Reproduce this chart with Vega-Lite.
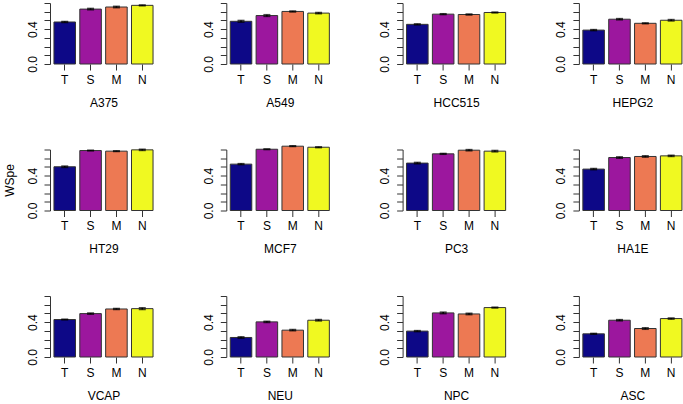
{
  "$schema": "https://vega.github.io/schema/vega-lite/v6.json",
  "background": "white",
  "padding": {"left": 3, "top": 2, "right": 0, "bottom": 0},
  "data": {"values": [
    {"cell":"A375","group":"T","wspe":0.482,"se":0.006},
    {"cell":"A375","group":"S","wspe":0.630,"se":0.008},
    {"cell":"A375","group":"M","wspe":0.654,"se":0.008},
    {"cell":"A375","group":"N","wspe":0.673,"se":0.005},
    {"cell":"A549","group":"T","wspe":0.490,"se":0.010},
    {"cell":"A549","group":"S","wspe":0.556,"se":0.010},
    {"cell":"A549","group":"M","wspe":0.603,"se":0.006},
    {"cell":"A549","group":"N","wspe":0.584,"se":0.007},
    {"cell":"HCC515","group":"T","wspe":0.455,"se":0.006},
    {"cell":"HCC515","group":"S","wspe":0.572,"se":0.005},
    {"cell":"HCC515","group":"M","wspe":0.568,"se":0.006},
    {"cell":"HCC515","group":"N","wspe":0.591,"se":0.005},
    {"cell":"HEPG2","group":"T","wspe":0.389,"se":0.006},
    {"cell":"HEPG2","group":"S","wspe":0.514,"se":0.007},
    {"cell":"HEPG2","group":"M","wspe":0.467,"se":0.005},
    {"cell":"HEPG2","group":"N","wspe":0.502,"se":0.008},
    {"cell":"HT29","group":"T","wspe":0.502,"se":0.008},
    {"cell":"HT29","group":"S","wspe":0.688,"se":0.004},
    {"cell":"HT29","group":"M","wspe":0.681,"se":0.004},
    {"cell":"HT29","group":"N","wspe":0.696,"se":0.007},
    {"cell":"MCF7","group":"T","wspe":0.532,"se":0.006},
    {"cell":"MCF7","group":"S","wspe":0.703,"se":0.004},
    {"cell":"MCF7","group":"M","wspe":0.738,"se":0.004},
    {"cell":"MCF7","group":"N","wspe":0.726,"se":0.005},
    {"cell":"PC3","group":"T","wspe":0.544,"se":0.008},
    {"cell":"PC3","group":"S","wspe":0.650,"se":0.005},
    {"cell":"PC3","group":"M","wspe":0.692,"se":0.007},
    {"cell":"PC3","group":"N","wspe":0.681,"se":0.008},
    {"cell":"HA1E","group":"T","wspe":0.475,"se":0.007},
    {"cell":"HA1E","group":"S","wspe":0.608,"se":0.008},
    {"cell":"HA1E","group":"M","wspe":0.620,"se":0.008},
    {"cell":"HA1E","group":"N","wspe":0.627,"se":0.007},
    {"cell":"VCAP","group":"T","wspe":0.430,"se":0.004},
    {"cell":"VCAP","group":"S","wspe":0.498,"se":0.007},
    {"cell":"VCAP","group":"M","wspe":0.551,"se":0.006},
    {"cell":"VCAP","group":"N","wspe":0.555,"se":0.010},
    {"cell":"NEU","group":"T","wspe":0.224,"se":0.008},
    {"cell":"NEU","group":"S","wspe":0.403,"se":0.007},
    {"cell":"NEU","group":"M","wspe":0.308,"se":0.007},
    {"cell":"NEU","group":"N","wspe":0.422,"se":0.008},
    {"cell":"NPC","group":"T","wspe":0.297,"se":0.006},
    {"cell":"NPC","group":"S","wspe":0.506,"se":0.009},
    {"cell":"NPC","group":"M","wspe":0.494,"se":0.008},
    {"cell":"NPC","group":"N","wspe":0.567,"se":0.005},
    {"cell":"ASC","group":"T","wspe":0.266,"se":0.005},
    {"cell":"ASC","group":"S","wspe":0.422,"se":0.007},
    {"cell":"ASC","group":"M","wspe":0.327,"se":0.009},
    {"cell":"ASC","group":"N","wspe":0.441,"se":0.007}
  ]},
  "bounds": "flush",
  "columns": 4,
  "spacing": {"row": 85.5, "column": 69.3},
  "concat": [
      {"width":107,"height":61,"transform":[{"filter":"datum.cell === 'A375'"}],
       "encoding":{"x":{"field":"group","type":"nominal","sort":["T","S","M","N"],"scale":{"paddingInner":0.1667,"paddingOuter":0.153},"axis":{"title":"A375"}},
                   "y":{"field":"wspe","type":"quantitative","scale":{"domain":[0,0.7],"nice":false,"zero":true},"axis":{"title":null,"values":[0,0.1,0.2,0.3,0.4,0.5,0.6,0.7],"labelExpr":"(datum.value === 0 || abs(datum.value - 0.4) < 0.000001) ? format(datum.value, '.1f') : ''"}}},
       "layer":[
         {"mark":{"type":"bar","stroke":"#333333","strokeWidth":1},"encoding":{"color":{"field":"group","type":"nominal","scale":{"domain":["T","S","M","N"],"range":["#0D0887","#9C179E","#ED7953","#F0F921"]},"legend":null}}},
         {"mark":{"type":"errorbar","color":"black","thickness":1.5,"ticks":{"size":7,"color":"black","thickness":1.5}},"encoding":{"yError":{"field":"se"}}}
       ]},
      {"width":107,"height":61,"transform":[{"filter":"datum.cell === 'A549'"}],
       "encoding":{"x":{"field":"group","type":"nominal","sort":["T","S","M","N"],"scale":{"paddingInner":0.1667,"paddingOuter":0.153},"axis":{"title":"A549"}},
                   "y":{"field":"wspe","type":"quantitative","scale":{"domain":[0,0.7],"nice":false,"zero":true},"axis":{"title":null,"values":[0,0.1,0.2,0.3,0.4,0.5,0.6,0.7],"labelExpr":"(datum.value === 0 || abs(datum.value - 0.4) < 0.000001) ? format(datum.value, '.1f') : ''"}}},
       "layer":[
         {"mark":{"type":"bar","stroke":"#333333","strokeWidth":1},"encoding":{"color":{"field":"group","type":"nominal","scale":{"domain":["T","S","M","N"],"range":["#0D0887","#9C179E","#ED7953","#F0F921"]},"legend":null}}},
         {"mark":{"type":"errorbar","color":"black","thickness":1.5,"ticks":{"size":7,"color":"black","thickness":1.5}},"encoding":{"yError":{"field":"se"}}}
       ]},
      {"width":107,"height":61,"transform":[{"filter":"datum.cell === 'HCC515'"}],
       "encoding":{"x":{"field":"group","type":"nominal","sort":["T","S","M","N"],"scale":{"paddingInner":0.1667,"paddingOuter":0.153},"axis":{"title":"HCC515"}},
                   "y":{"field":"wspe","type":"quantitative","scale":{"domain":[0,0.7],"nice":false,"zero":true},"axis":{"title":null,"values":[0,0.1,0.2,0.3,0.4,0.5,0.6,0.7],"labelExpr":"(datum.value === 0 || abs(datum.value - 0.4) < 0.000001) ? format(datum.value, '.1f') : ''"}}},
       "layer":[
         {"mark":{"type":"bar","stroke":"#333333","strokeWidth":1},"encoding":{"color":{"field":"group","type":"nominal","scale":{"domain":["T","S","M","N"],"range":["#0D0887","#9C179E","#ED7953","#F0F921"]},"legend":null}}},
         {"mark":{"type":"errorbar","color":"black","thickness":1.5,"ticks":{"size":7,"color":"black","thickness":1.5}},"encoding":{"yError":{"field":"se"}}}
       ]},
      {"width":107,"height":61,"transform":[{"filter":"datum.cell === 'HEPG2'"}],
       "encoding":{"x":{"field":"group","type":"nominal","sort":["T","S","M","N"],"scale":{"paddingInner":0.1667,"paddingOuter":0.153},"axis":{"title":"HEPG2"}},
                   "y":{"field":"wspe","type":"quantitative","scale":{"domain":[0,0.7],"nice":false,"zero":true},"axis":{"title":null,"values":[0,0.1,0.2,0.3,0.4,0.5,0.6,0.7],"labelExpr":"(datum.value === 0 || abs(datum.value - 0.4) < 0.000001) ? format(datum.value, '.1f') : ''"}}},
       "layer":[
         {"mark":{"type":"bar","stroke":"#333333","strokeWidth":1},"encoding":{"color":{"field":"group","type":"nominal","scale":{"domain":["T","S","M","N"],"range":["#0D0887","#9C179E","#ED7953","#F0F921"]},"legend":null}}},
         {"mark":{"type":"errorbar","color":"black","thickness":1.5,"ticks":{"size":7,"color":"black","thickness":1.5}},"encoding":{"yError":{"field":"se"}}}
       ]},
      {"width":107,"height":61,"transform":[{"filter":"datum.cell === 'HT29'"}],
       "encoding":{"x":{"field":"group","type":"nominal","sort":["T","S","M","N"],"scale":{"paddingInner":0.1667,"paddingOuter":0.153},"axis":{"title":"HT29"}},
                   "y":{"field":"wspe","type":"quantitative","scale":{"domain":[0,0.7],"nice":false,"zero":true},"axis":{"title":"WSpe","values":[0,0.1,0.2,0.3,0.4,0.5,0.6,0.7],"labelExpr":"(datum.value === 0 || abs(datum.value - 0.4) < 0.000001) ? format(datum.value, '.1f') : ''"}}},
       "layer":[
         {"mark":{"type":"bar","stroke":"#333333","strokeWidth":1},"encoding":{"color":{"field":"group","type":"nominal","scale":{"domain":["T","S","M","N"],"range":["#0D0887","#9C179E","#ED7953","#F0F921"]},"legend":null}}},
         {"mark":{"type":"errorbar","color":"black","thickness":1.5,"ticks":{"size":7,"color":"black","thickness":1.5}},"encoding":{"yError":{"field":"se"}}}
       ]},
      {"width":107,"height":61,"transform":[{"filter":"datum.cell === 'MCF7'"}],
       "encoding":{"x":{"field":"group","type":"nominal","sort":["T","S","M","N"],"scale":{"paddingInner":0.1667,"paddingOuter":0.153},"axis":{"title":"MCF7"}},
                   "y":{"field":"wspe","type":"quantitative","scale":{"domain":[0,0.7],"nice":false,"zero":true},"axis":{"title":null,"values":[0,0.1,0.2,0.3,0.4,0.5,0.6,0.7],"labelExpr":"(datum.value === 0 || abs(datum.value - 0.4) < 0.000001) ? format(datum.value, '.1f') : ''"}}},
       "layer":[
         {"mark":{"type":"bar","stroke":"#333333","strokeWidth":1},"encoding":{"color":{"field":"group","type":"nominal","scale":{"domain":["T","S","M","N"],"range":["#0D0887","#9C179E","#ED7953","#F0F921"]},"legend":null}}},
         {"mark":{"type":"errorbar","color":"black","thickness":1.5,"ticks":{"size":7,"color":"black","thickness":1.5}},"encoding":{"yError":{"field":"se"}}}
       ]},
      {"width":107,"height":61,"transform":[{"filter":"datum.cell === 'PC3'"}],
       "encoding":{"x":{"field":"group","type":"nominal","sort":["T","S","M","N"],"scale":{"paddingInner":0.1667,"paddingOuter":0.153},"axis":{"title":"PC3"}},
                   "y":{"field":"wspe","type":"quantitative","scale":{"domain":[0,0.7],"nice":false,"zero":true},"axis":{"title":null,"values":[0,0.1,0.2,0.3,0.4,0.5,0.6,0.7],"labelExpr":"(datum.value === 0 || abs(datum.value - 0.4) < 0.000001) ? format(datum.value, '.1f') : ''"}}},
       "layer":[
         {"mark":{"type":"bar","stroke":"#333333","strokeWidth":1},"encoding":{"color":{"field":"group","type":"nominal","scale":{"domain":["T","S","M","N"],"range":["#0D0887","#9C179E","#ED7953","#F0F921"]},"legend":null}}},
         {"mark":{"type":"errorbar","color":"black","thickness":1.5,"ticks":{"size":7,"color":"black","thickness":1.5}},"encoding":{"yError":{"field":"se"}}}
       ]},
      {"width":107,"height":61,"transform":[{"filter":"datum.cell === 'HA1E'"}],
       "encoding":{"x":{"field":"group","type":"nominal","sort":["T","S","M","N"],"scale":{"paddingInner":0.1667,"paddingOuter":0.153},"axis":{"title":"HA1E"}},
                   "y":{"field":"wspe","type":"quantitative","scale":{"domain":[0,0.7],"nice":false,"zero":true},"axis":{"title":null,"values":[0,0.1,0.2,0.3,0.4,0.5,0.6,0.7],"labelExpr":"(datum.value === 0 || abs(datum.value - 0.4) < 0.000001) ? format(datum.value, '.1f') : ''"}}},
       "layer":[
         {"mark":{"type":"bar","stroke":"#333333","strokeWidth":1},"encoding":{"color":{"field":"group","type":"nominal","scale":{"domain":["T","S","M","N"],"range":["#0D0887","#9C179E","#ED7953","#F0F921"]},"legend":null}}},
         {"mark":{"type":"errorbar","color":"black","thickness":1.5,"ticks":{"size":7,"color":"black","thickness":1.5}},"encoding":{"yError":{"field":"se"}}}
       ]},
      {"width":107,"height":61,"transform":[{"filter":"datum.cell === 'VCAP'"}],
       "encoding":{"x":{"field":"group","type":"nominal","sort":["T","S","M","N"],"scale":{"paddingInner":0.1667,"paddingOuter":0.153},"axis":{"title":"VCAP"}},
                   "y":{"field":"wspe","type":"quantitative","scale":{"domain":[0,0.7],"nice":false,"zero":true},"axis":{"title":null,"values":[0,0.1,0.2,0.3,0.4,0.5,0.6,0.7],"labelExpr":"(datum.value === 0 || abs(datum.value - 0.4) < 0.000001) ? format(datum.value, '.1f') : ''"}}},
       "layer":[
         {"mark":{"type":"bar","stroke":"#333333","strokeWidth":1},"encoding":{"color":{"field":"group","type":"nominal","scale":{"domain":["T","S","M","N"],"range":["#0D0887","#9C179E","#ED7953","#F0F921"]},"legend":null}}},
         {"mark":{"type":"errorbar","color":"black","thickness":1.5,"ticks":{"size":7,"color":"black","thickness":1.5}},"encoding":{"yError":{"field":"se"}}}
       ]},
      {"width":107,"height":61,"transform":[{"filter":"datum.cell === 'NEU'"}],
       "encoding":{"x":{"field":"group","type":"nominal","sort":["T","S","M","N"],"scale":{"paddingInner":0.1667,"paddingOuter":0.153},"axis":{"title":"NEU"}},
                   "y":{"field":"wspe","type":"quantitative","scale":{"domain":[0,0.7],"nice":false,"zero":true},"axis":{"title":null,"values":[0,0.1,0.2,0.3,0.4,0.5,0.6,0.7],"labelExpr":"(datum.value === 0 || abs(datum.value - 0.4) < 0.000001) ? format(datum.value, '.1f') : ''"}}},
       "layer":[
         {"mark":{"type":"bar","stroke":"#333333","strokeWidth":1},"encoding":{"color":{"field":"group","type":"nominal","scale":{"domain":["T","S","M","N"],"range":["#0D0887","#9C179E","#ED7953","#F0F921"]},"legend":null}}},
         {"mark":{"type":"errorbar","color":"black","thickness":1.5,"ticks":{"size":7,"color":"black","thickness":1.5}},"encoding":{"yError":{"field":"se"}}}
       ]},
      {"width":107,"height":61,"transform":[{"filter":"datum.cell === 'NPC'"}],
       "encoding":{"x":{"field":"group","type":"nominal","sort":["T","S","M","N"],"scale":{"paddingInner":0.1667,"paddingOuter":0.153},"axis":{"title":"NPC"}},
                   "y":{"field":"wspe","type":"quantitative","scale":{"domain":[0,0.7],"nice":false,"zero":true},"axis":{"title":null,"values":[0,0.1,0.2,0.3,0.4,0.5,0.6,0.7],"labelExpr":"(datum.value === 0 || abs(datum.value - 0.4) < 0.000001) ? format(datum.value, '.1f') : ''"}}},
       "layer":[
         {"mark":{"type":"bar","stroke":"#333333","strokeWidth":1},"encoding":{"color":{"field":"group","type":"nominal","scale":{"domain":["T","S","M","N"],"range":["#0D0887","#9C179E","#ED7953","#F0F921"]},"legend":null}}},
         {"mark":{"type":"errorbar","color":"black","thickness":1.5,"ticks":{"size":7,"color":"black","thickness":1.5}},"encoding":{"yError":{"field":"se"}}}
       ]},
      {"width":107,"height":61,"transform":[{"filter":"datum.cell === 'ASC'"}],
       "encoding":{"x":{"field":"group","type":"nominal","sort":["T","S","M","N"],"scale":{"paddingInner":0.1667,"paddingOuter":0.153},"axis":{"title":"ASC"}},
                   "y":{"field":"wspe","type":"quantitative","scale":{"domain":[0,0.7],"nice":false,"zero":true},"axis":{"title":null,"values":[0,0.1,0.2,0.3,0.4,0.5,0.6,0.7],"labelExpr":"(datum.value === 0 || abs(datum.value - 0.4) < 0.000001) ? format(datum.value, '.1f') : ''"}}},
       "layer":[
         {"mark":{"type":"bar","stroke":"#333333","strokeWidth":1},"encoding":{"color":{"field":"group","type":"nominal","scale":{"domain":["T","S","M","N"],"range":["#0D0887","#9C179E","#ED7953","#F0F921"]},"legend":null}}},
         {"mark":{"type":"errorbar","color":"black","thickness":1.5,"ticks":{"size":7,"color":"black","thickness":1.5}},"encoding":{"yError":{"field":"se"}}}
       ]}
  ],
  "config": {
    "view": {"stroke": null},
    "font": "Liberation Sans",
    "axis": {"domainColor": "#333333", "tickColor": "#333333", "labelColor": "black", "titleColor": "black", "labelFontSize": 12, "titleFontSize": 12, "titleFontWeight": "normal", "grid": false, "labelFont": "Liberation Sans", "titleFont": "Liberation Sans"},
    "axisX": {"domain": false, "tickSize": 6, "labelAngle": 0, "labelPadding": 4, "titlePadding": 12},
    "axisY": {"tickSize": 6, "labelAngle": -90, "labelAlign": "center", "labelBaseline": "bottom", "labelPadding": 5, "titlePadding": 10}
  }
}
